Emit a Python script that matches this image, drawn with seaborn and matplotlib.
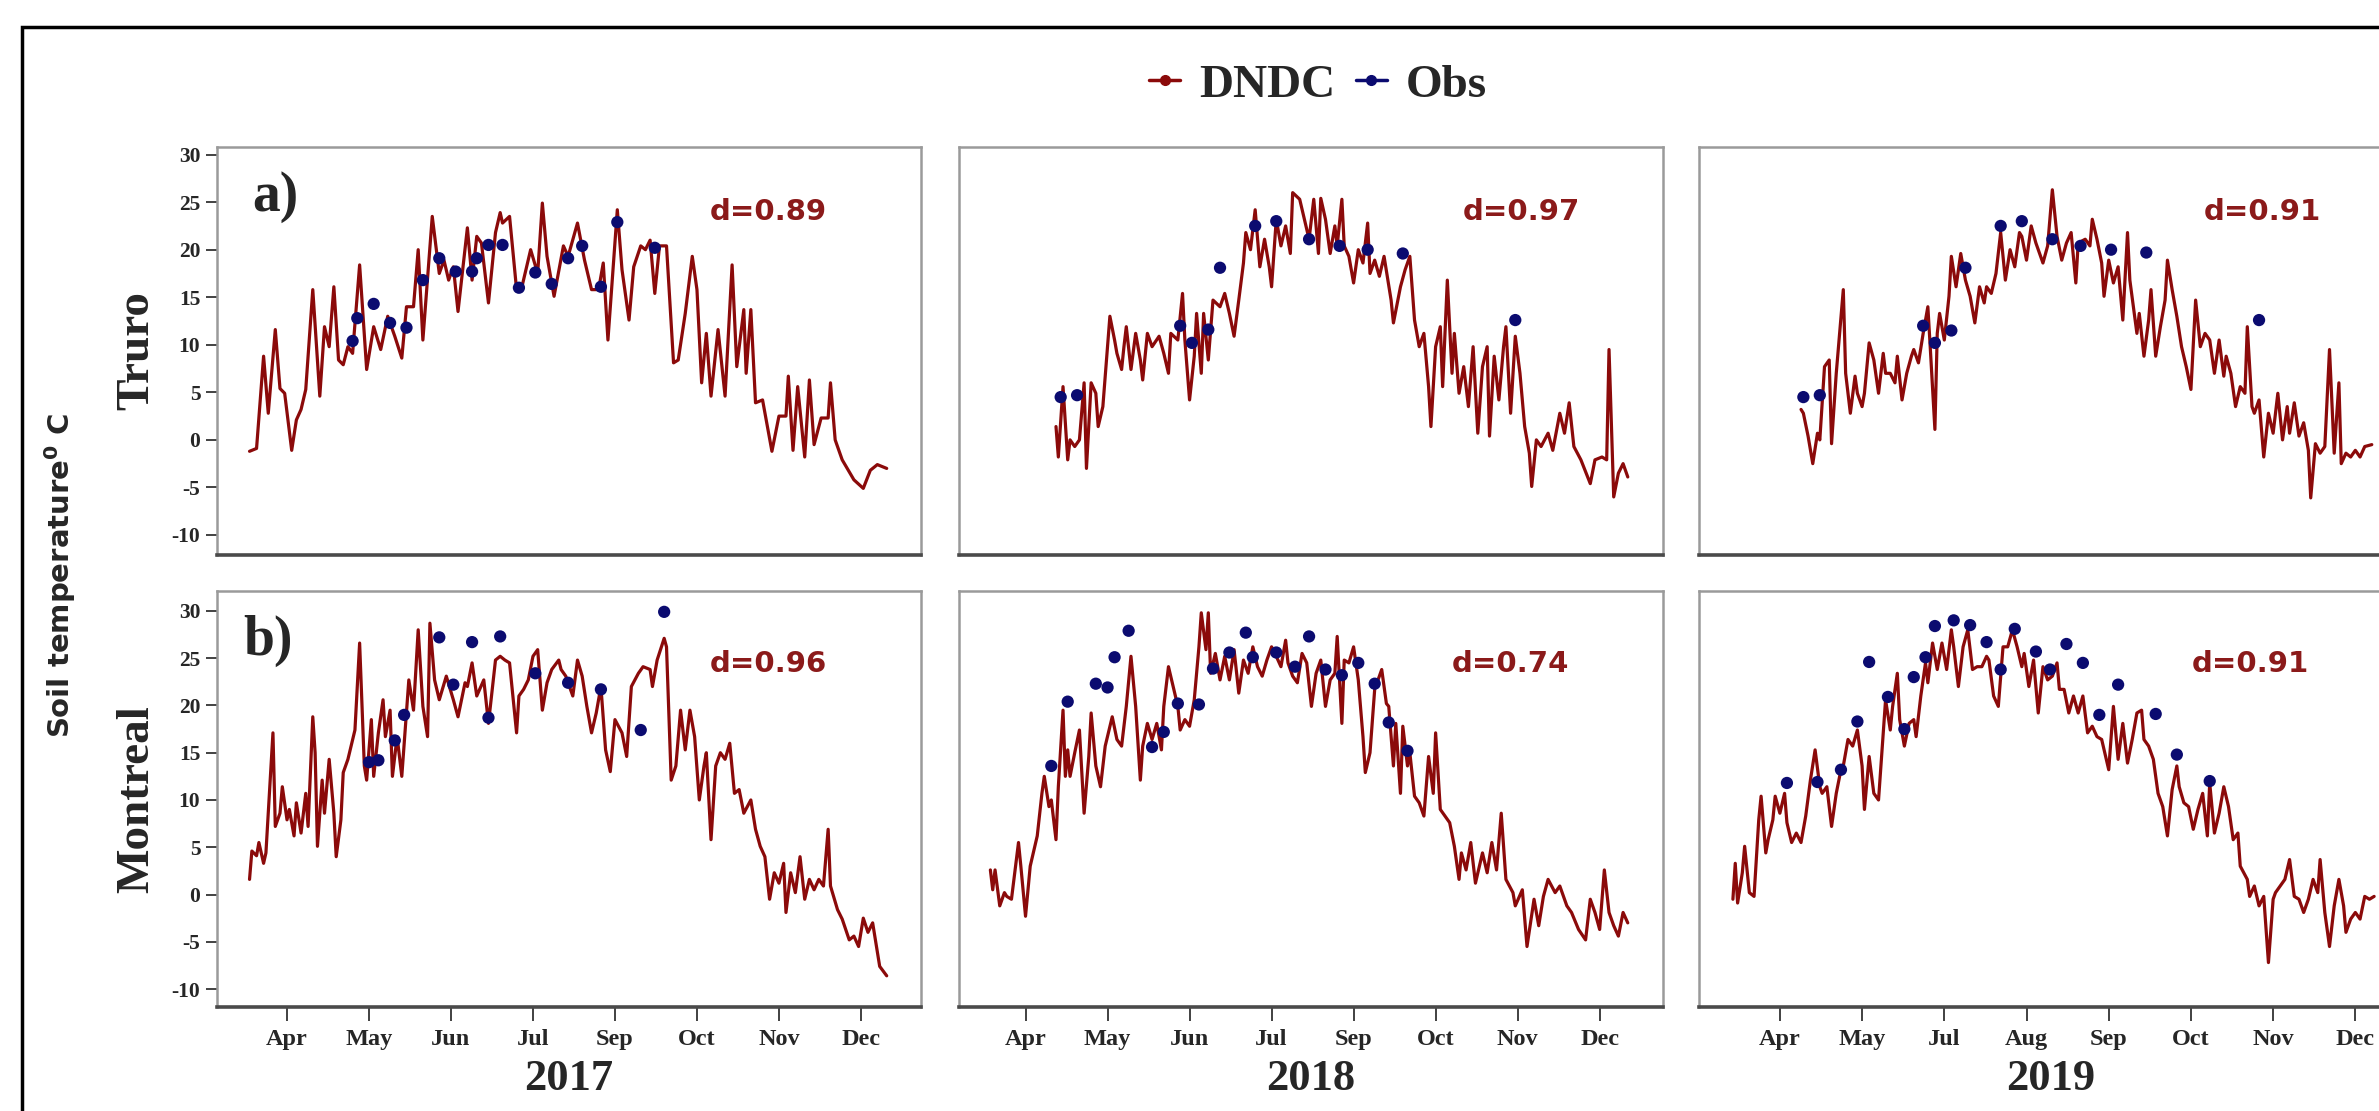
import matplotlib
matplotlib.use("Agg")
import matplotlib.pyplot as plt
from matplotlib.lines import Line2D
from matplotlib.patches import Rectangle
import seaborn as sns

sns.set_theme(style="ticks")
plt.rcParams['font.family'] = ['Liberation Serif', 'DejaVu Serif']
plt.rcParams['mathtext.fontset'] = 'dejavusans'

# ---- data (day of year, soil temperature in C) ----
truro_2017_day = [75, 78, 81, 83, 86, 88, 90, 93, 95, 97, 99, 102, 105, 107, 109, 111, 113, 115, 117, 119,
                  122, 125, 128, 131, 134, 137, 140, 142, 145, 147, 149, 153, 156, 158, 160, 162, 164, 168, 170, 172,
                  174, 177, 180, 182, 183, 186, 189, 191, 195, 198, 200, 202, 205, 209, 211, 215, 218, 221, 224, 226,
                  228, 232, 234, 237, 239, 242, 244, 246, 248, 250, 253, 256, 258, 261, 264, 266, 268, 270, 272, 275,
                  278, 281, 283, 286, 287, 289, 291, 294, 298, 301, 304, 305, 307, 309, 312, 314, 316, 319, 322, 323,
                  325, 328, 333, 337, 340, 343, 347]
truro_2017_temp = [-1.2, -0.9, 8.8, 2.8, 11.6, 5.4, 4.9, -1.1, 2.1, 3.2, 5.3, 15.8, 4.6, 11.9, 9.8, 16.1, 8.4, 7.9, 9.8, 9.1,
                   18.4, 7.4, 11.9, 9.5, 13.0, 10.9, 8.6, 14.0, 14.0, 20.0, 10.5, 23.5, 17.5, 18.9, 16.8, 18.2, 13.5, 22.3, 16.8, 21.4,
                   20.7, 14.4, 21.8, 23.9, 22.8, 23.5, 15.8, 15.8, 20.0, 17.5, 24.9, 19.3, 15.1, 20.4, 19.3, 22.8, 18.9, 15.8, 15.8, 18.6,
                   10.5, 24.2, 17.9, 12.6, 18.2, 20.4, 20.0, 21.0, 15.4, 20.4, 20.4, 8.1, 8.4, 13.3, 19.3, 15.8, 6.0, 11.2, 4.6, 11.6,
                   4.6, 18.4, 7.7, 13.7, 7.0, 13.7, 3.9, 4.2, -1.2, 2.5, 2.5, 6.7, -1.1, 5.6, -1.8, 6.3, -0.5, 2.3, 2.3, 6.0,
                   0.0, -2.1, -4.2, -5.1, -3.2, -2.6, -3.0]
truro_2017_obs_day = [119, 121, 128, 135, 142, 149, 156, 163, 170, 172, 177, 183, 190, 197, 204, 211, 217, 225, 232, 248]
truro_2017_obs = [10.4, 12.8, 14.3, 12.3, 11.8, 16.8, 19.1, 17.7, 17.7, 19.1, 20.5, 20.5, 16.0, 17.6, 16.4, 19.1, 20.4, 16.1, 22.9, 20.2]

truro_2018_day = [104, 105, 107, 109, 110, 112, 114, 116, 117, 119, 121, 122, 124, 127, 129, 130, 132, 133, 134, 136,
                  138, 140, 141, 143, 145, 148, 150, 152, 153, 156, 158, 159, 161, 163, 164, 166, 167, 169, 171, 174,
                  176, 178, 180, 182, 184, 185, 187, 189, 191, 193, 195, 196, 198, 200, 202, 204, 205, 208, 210, 212,
                  214, 216, 217, 219, 221, 223, 224, 226, 227, 229, 231, 233, 235, 237, 238, 240, 242, 244, 247, 248,
                  251, 253, 255, 257, 259, 261, 263, 264, 266, 268, 269, 271, 273, 274, 276, 278, 280, 282, 284, 286,
                  288, 289, 291, 293, 295, 296, 298, 300, 302, 304, 306, 307, 309, 311, 314, 316, 319, 321, 323, 325,
                  328, 332, 334, 337, 339, 340, 342, 344, 346, 348]
truro_2018_temp = [1.4, -1.8, 5.6, -2.1, 0.0, -0.7, 0.0, 6.0, -3.0, 6.0, 4.9, 1.4, 3.5, 13.0, 10.5, 9.1, 7.4, 9.8, 11.9, 7.4,
                   11.2, 8.4, 6.3, 11.2, 9.8, 10.9, 9.1, 7.0, 11.2, 10.5, 15.4, 10.5, 4.2, 8.8, 13.3, 7.0, 13.3, 8.4, 14.7, 14.0,
                   15.4, 13.3, 10.9, 14.7, 18.6, 21.8, 20.0, 24.2, 18.2, 21.1, 18.2, 16.1, 23.2, 20.4, 22.5, 19.6, 26.0, 25.3, 23.2, 21.1,
                   25.3, 19.6, 25.4, 23.2, 19.6, 22.5, 20.4, 25.3, 20.4, 19.3, 16.5, 20.0, 18.6, 22.8, 17.5, 18.9, 17.2, 19.3, 14.7, 12.3,
                   16.1, 17.9, 19.3, 12.6, 9.8, 11.2, 5.6, 1.4, 9.8, 11.9, 5.6, 16.8, 7.0, 11.2, 4.9, 7.7, 3.5, 9.8, 0.7, 7.7,
                   9.8, 0.4, 8.8, 4.2, 9.8, 11.9, 2.8, 10.9, 7.0, 1.4, -1.4, -4.9, 0.0, -0.7, 0.7, -1.1, 2.8, 0.7, 3.9, -0.7,
                   -2.1, -4.6, -2.1, -1.8, -2.1, 9.5, -6.0, -3.5, -2.5, -3.9]
truro_2018_obs_day = [106, 113, 157, 162, 169, 174, 189, 198, 212, 225, 237, 252, 300]
truro_2018_obs = [4.5, 4.7, 12.0, 10.2, 11.6, 18.1, 22.5, 23.0, 21.1, 20.4, 20.0, 19.6, 12.6]

truro_2019_day = [100, 101, 103, 105, 107, 108, 110, 112, 113, 115, 118, 119, 121, 123, 124, 126, 127, 129, 131, 133,
                  135, 136, 138, 140, 141, 143, 145, 147, 148, 150, 152, 154, 155, 157, 158, 159, 161, 163, 164, 166,
                  168, 170, 172, 174, 176, 178, 179, 181, 183, 185, 187, 189, 191, 193, 194, 196, 198, 200, 203, 205,
                  207, 209, 211, 213, 215, 217, 218, 221, 223, 224, 226, 228, 229, 231, 233, 235, 237, 239, 240, 243,
                  244, 246, 248, 249, 251, 253, 255, 256, 258, 260, 262, 264, 266, 268, 270, 272, 274, 276, 278, 280,
                  281, 283, 285, 287, 289, 290, 292, 293, 295, 297, 299, 301, 303, 305, 307, 308, 310, 312, 314, 316,
                  317, 319, 321, 323, 325, 327, 329, 330, 332, 334, 336, 338, 340, 343]
truro_2019_temp = [3.2, 2.8, 0.4, -2.5, 0.7, 0.0, 7.7, 8.4, -0.4, 7.0, 15.8, 7.0, 2.8, 6.7, 4.9, 3.5, 4.9, 10.2, 8.4, 4.9,
                   9.1, 7.0, 7.0, 6.0, 8.8, 4.2, 7.0, 8.8, 9.5, 8.1, 11.2, 14.0, 9.8, 1.1, 11.2, 13.3, 10.5, 15.1, 19.3, 16.1,
                   19.6, 16.8, 15.1, 12.3, 16.1, 14.4, 16.1, 15.4, 17.5, 21.8, 16.8, 20.0, 18.2, 21.8, 21.4, 18.9, 22.5, 20.7, 18.6, 20.4,
                   26.3, 21.4, 18.9, 20.7, 21.8, 16.5, 20.7, 21.1, 20.4, 23.2, 21.1, 18.6, 15.1, 18.9, 16.5, 18.2, 12.6, 21.8, 16.8, 11.2,
                   13.3, 8.8, 12.6, 15.8, 8.8, 11.9, 14.7, 18.9, 15.8, 13.0, 9.8, 7.7, 5.3, 14.7, 9.8, 11.2, 10.5, 7.0, 10.5, 6.7,
                   8.8, 7.0, 3.5, 5.6, 4.9, 11.9, 3.5, 2.8, 4.2, -1.8, 2.8, 0.7, 4.9, 0.0, 3.5, 0.7, 3.9, 0.4, 1.8, -1.1,
                   -6.1, -0.4, -1.4, -0.7, 9.5, -1.4, 6.0, -2.5, -1.4, -1.8, -1.1, -1.8, -0.7, -0.5]
truro_2019_obs_day = [101, 108, 152, 157, 164, 170, 185, 194, 207, 219, 232, 247, 295]
truro_2019_obs = [4.5, 4.7, 12.0, 10.2, 11.5, 18.1, 22.5, 23.0, 21.1, 20.4, 20.0, 19.7, 12.6]

montreal_2017_day = [75, 76, 78, 79, 81, 82, 85, 86, 88, 89, 91, 92, 94, 95, 97, 99, 100, 102, 103, 104,
                     106, 107, 109, 111, 112, 114, 115, 117, 119, 120, 122, 124, 125, 127, 128, 130, 132, 133, 135, 136,
                     138, 140, 142, 143, 145, 147, 149, 151, 152, 154, 156, 159, 162, 164, 167, 168, 170, 172, 175, 177,
                     180, 182, 184, 186, 189, 190, 192, 194, 196, 198, 200, 202, 204, 207, 208, 210, 213, 215, 217, 219,
                     221, 223, 225, 227, 229, 231, 234, 236, 238, 241, 243, 246, 247, 249, 252, 253, 255, 257, 259, 261,
                     263, 265, 267, 269, 270, 272, 274, 276, 278, 280, 282, 284, 286, 289, 291, 293, 295, 297, 299, 301,
                     303, 304, 306, 308, 310, 312, 314, 316, 318, 320, 322, 323, 326, 328, 331, 333, 335, 337, 339, 341,
                     344, 347]
montreal_2017_temp = [1.6, 4.6, 4.1, 5.5, 3.3, 4.4, 17.1, 7.2, 8.6, 11.4, 7.9, 9.0, 6.2, 9.7, 6.5, 10.7, 7.2, 18.8, 15.0, 5.1,
                      12.1, 8.6, 14.3, 8.6, 4.0, 7.9, 12.9, 14.3, 16.4, 17.4, 26.6, 13.6, 12.1, 18.5, 12.5, 17.1, 20.6, 16.7, 19.5, 12.5,
                      16.7, 12.5, 19.2, 22.7, 19.5, 28.0, 19.9, 16.7, 28.7, 22.7, 20.6, 23.1, 20.6, 18.8, 22.4, 22.0, 24.5, 21.0, 22.7, 18.1,
                      24.8, 25.2, 24.8, 24.5, 17.1, 21.0, 21.7, 22.7, 25.2, 25.9, 19.5, 22.4, 23.8, 24.8, 23.8, 23.1, 21.0, 24.8, 23.1, 19.9,
                      17.1, 19.2, 22.0, 15.3, 13.0, 18.5, 17.1, 14.6, 22.0, 23.4, 24.1, 23.8, 22.0, 24.8, 27.1, 26.2, 12.1, 13.6, 19.5, 15.3,
                      19.5, 16.7, 10.0, 13.6, 15.0, 5.8, 13.6, 15.0, 14.3, 16.0, 10.7, 11.1, 8.6, 10.0, 6.9, 5.1, 4.0, -0.5, 2.3, 1.2,
                      3.3, -1.9, 2.3, 0.2, 4.0, -0.5, 1.6, 0.5, 1.6, 0.9, 6.9, 0.9, -1.6, -2.6, -4.8, -4.4, -5.5, -2.5, -4.0, -3.0,
                      -7.6, -8.6]
montreal_2017_obs_day = [126, 130, 137, 141, 156, 162, 170, 177, 182, 197, 211, 225, 242, 252]
montreal_2017_obs = [14.0, 14.2, 16.3, 19.0, 27.2, 22.2, 26.7, 18.7, 27.3, 23.4, 22.4, 21.7, 17.4, 29.9]

montreal_2018_day = [76, 77, 78, 80, 82, 83, 85, 88, 89, 91, 93, 95, 96, 98, 99, 101, 102, 104, 105, 107,
                     108, 109, 110, 112, 114, 116, 118, 119, 121, 123, 125, 127, 128, 130, 132, 134, 136, 138, 140, 141,
                     143, 145, 147, 149, 150, 152, 154, 156, 157, 159, 161, 163, 165, 166, 168, 169, 170, 172, 174, 176,
                     178, 180, 182, 184, 186, 188, 190, 192, 194, 196, 198, 200, 202, 203, 205, 207, 209, 211, 213, 215,
                     217, 219, 221, 223, 224, 226, 227, 229, 231, 233, 235, 236, 238, 240, 243, 245, 246, 248, 249, 251,
                     252, 254, 255, 257, 259, 261, 263, 265, 266, 268, 270, 272, 274, 276, 277, 279, 281, 283, 286, 288,
                     290, 292, 294, 296, 299, 300, 303, 305, 308, 310, 312, 314, 317, 319, 322, 324, 327, 330, 332, 334,
                     336, 338, 340, 342, 344, 346, 348]
montreal_2018_temp = [2.6, 0.5, 2.6, -1.2, 0.2, -0.2, -0.5, 5.5, 3.0, -2.3, 3.0, 5.1, 6.2, 10.7, 12.5, 9.3, 10.0, 5.8, 11.4, 19.5,
                      12.5, 15.3, 12.5, 15.0, 17.4, 8.6, 14.6, 19.2, 13.6, 11.4, 15.7, 17.8, 18.8, 16.4, 15.7, 19.9, 25.2, 19.9, 12.1, 15.7,
                      18.1, 16.4, 18.1, 15.3, 19.9, 24.1, 22.0, 19.9, 17.4, 18.5, 17.8, 20.6, 26.2, 29.8, 25.9, 29.8, 23.4, 25.5, 22.7, 25.2,
                      22.7, 25.9, 21.3, 24.8, 23.4, 26.2, 24.1, 23.1, 24.8, 26.2, 25.2, 24.1, 26.9, 24.5, 23.1, 22.4, 25.5, 24.5, 19.9, 23.4,
                      24.8, 19.9, 22.7, 23.4, 27.3, 18.1, 24.8, 24.5, 26.2, 22.7, 16.7, 12.9, 15.0, 21.7, 23.8, 20.2, 19.9, 13.6, 18.1, 10.7,
                      17.8, 13.6, 15.0, 10.4, 9.7, 8.3, 14.6, 10.7, 17.1, 9.0, 8.3, 7.6, 5.1, 1.6, 4.4, 2.6, 5.5, 1.2, 4.4, 2.3,
                      5.5, 2.6, 8.6, 1.6, 0.2, -1.2, 0.5, -5.5, -0.5, -3.3, -0.2, 1.6, 0.2, 0.9, -1.2, -1.9, -3.7, -4.8, -0.5, -1.9,
                      -3.7, 2.6, -1.9, -3.3, -4.4, -1.9, -3.0]
montreal_2018_obs_day = [102, 109, 121, 126, 129, 135, 145, 150, 156, 165, 171, 178, 185, 188, 198, 206, 212, 219, 226, 233, 240, 246, 254]
montreal_2018_obs = [13.6, 20.4, 22.3, 21.9, 25.1, 27.9, 15.6, 17.2, 20.2, 20.1, 23.9, 25.6, 27.7, 25.1, 25.6, 24.1, 27.3, 23.8,
                     23.2, 24.5, 22.3, 18.2, 15.2]

montreal_2019_day = [71, 72, 73, 75, 76, 78, 80, 82, 83, 85, 86, 88, 89, 91, 93, 94, 96, 98, 100, 102,
                     104, 106, 108, 109, 111, 113, 115, 117, 118, 120, 122, 124, 126, 127, 129, 131, 133, 135, 136, 138,
                     139, 141, 142, 144, 146, 148, 149, 151, 153, 154, 156, 158, 160, 162, 164, 165, 167, 169, 171, 173,
                     175, 177, 179, 180, 182, 184, 186, 188, 190, 192, 194, 195, 197, 199, 201, 203, 205, 207, 209, 210,
                     212, 214, 216, 218, 220, 222, 224, 226, 228, 230, 231, 233, 235, 237, 239, 241, 243, 245, 246, 248,
                     250, 252, 254, 256, 258, 260, 261, 263, 265, 267, 269, 271, 273, 274, 276, 278, 280, 282, 284, 286,
                     287, 290, 291, 293, 295, 297, 299, 301, 302, 304, 306, 308, 310, 312, 314, 316, 318, 320, 321, 323,
                     325, 327, 329, 331, 332, 334, 336, 338, 340, 342, 344]
montreal_2019_temp = [-0.5, 3.3, -0.9, 2.3, 5.1, 0.2, -0.2, 7.9, 10.4, 4.4, 5.8, 7.9, 10.4, 8.6, 10.7, 7.6, 5.5, 6.5, 5.5, 8.3,
                      12.1, 15.3, 11.4, 10.7, 11.4, 7.2, 10.7, 13.2, 13.6, 16.4, 15.7, 17.4, 13.6, 9.0, 14.6, 10.7, 10.0, 17.1, 20.6, 17.4,
                      19.9, 23.4, 18.5, 15.7, 18.1, 18.5, 16.7, 21.0, 24.5, 22.4, 26.6, 23.8, 26.6, 23.8, 28.0, 26.2, 22.0, 26.2, 28.0, 23.8,
                      24.1, 24.1, 25.2, 24.8, 21.0, 19.9, 26.2, 26.2, 28.0, 26.2, 24.1, 25.5, 22.0, 24.8, 19.2, 24.1, 22.7, 23.1, 24.5, 21.7,
                      21.7, 19.2, 21.0, 19.2, 21.0, 17.1, 17.8, 16.7, 16.4, 14.3, 13.2, 19.9, 14.3, 18.1, 13.9, 16.4, 19.2, 19.5, 16.4, 15.7,
                      14.3, 10.7, 9.3, 6.2, 11.1, 13.6, 11.4, 9.7, 9.3, 6.9, 9.0, 10.7, 6.2, 11.8, 6.5, 8.6, 11.4, 9.3, 5.8, 6.5,
                      3.0, 1.6, -0.2, 0.9, -1.2, -0.2, -7.2, -0.5, 0.2, 0.9, 1.6, 3.7, -0.2, -0.5, -1.9, -0.5, 1.6, 0.2, 3.7, -1.9,
                      -5.5, -1.2, 1.6, -1.2, -4.0, -2.6, -1.9, -2.6, -0.2, -0.5, -0.2]
montreal_2019_obs_day = [94, 107, 117, 124, 129, 137, 144, 148, 153, 157, 165, 172, 179, 185, 191, 200, 206, 213, 220, 227, 235, 251, 260, 274]
montreal_2019_obs = [11.8, 11.9, 13.2, 18.3, 24.6, 20.9, 17.5, 23.0, 25.1, 28.4, 29.0, 28.5, 26.7, 23.8, 28.1, 25.7, 23.8, 26.5,
                     24.5, 19.0, 22.2, 19.1, 14.8, 12.0]

years = ['2017', '2018', '2019']
sites = ['Truro', 'Montreal']
d_values = [['d=0.89', 'd=0.97', 'd=0.91'], ['d=0.96', 'd=0.74', 'd=0.91']]
panel_letters = ['a)', 'b)']
month_ticks = [91, 126, 161, 196, 231, 266, 301, 336]
month_labels = [['Apr', 'May', 'Jun', 'Jul', 'Sep', 'Oct', 'Nov', 'Dec'],
                ['Apr', 'May', 'Jun', 'Jul', 'Sep', 'Oct', 'Nov', 'Dec'],
                ['Apr', 'May', 'Jul', 'Aug', 'Sep', 'Oct', 'Nov', 'Dec']]
y_ticks = [-10, -5, 0, 5, 10, 15, 20, 25, 30]

sim = [[(truro_2017_day, truro_2017_temp), (truro_2018_day, truro_2018_temp), (truro_2019_day, truro_2019_temp)],
       [(montreal_2017_day, montreal_2017_temp), (montreal_2018_day, montreal_2018_temp), (montreal_2019_day, montreal_2019_temp)]]
obs = [[(truro_2017_obs_day, truro_2017_obs), (truro_2018_obs_day, truro_2018_obs), (truro_2019_obs_day, truro_2019_obs)],
       [(montreal_2017_obs_day, montreal_2017_obs), (montreal_2018_obs_day, montreal_2018_obs), (montreal_2019_obs_day, montreal_2019_obs)]]

LINE = '#8B0A0A'
DOT = '#0B0B70'
TXT_RED = '#8B1A1A'

fig = plt.figure(figsize=(23.79, 11.11), dpi=100)

col_left = [0.0912, 0.4031, 0.7142]
col_w = 0.2959
row_bottom = [0.5005, 0.0936]
row_h = [0.3672, 0.3744]
xlims = [(61.1, 361.6), (62.6, 363.0), (56.6, 356.3)]
ylims = [(-12.1, 30.8), (-11.9, 32.1)]
d_x = [[0.70, 0.716, 0.717], [0.70, 0.70, 0.70]]
d_y = [0.821, 0.805]
letter_pos = [(0.05, 0.843), (0.038, 0.846)]

for r in range(2):
    for c in range(3):
        ax = fig.add_axes([col_left[c], row_bottom[r], col_w, row_h[r]])
        sx, sy = sim[r][c]
        ox, oy = obs[r][c]
        sns.lineplot(x=sx, y=sy, ax=ax, color=LINE, linewidth=2.3, estimator=None, sort=False)
        sns.scatterplot(x=ox, y=oy, ax=ax, color=DOT, s=78, edgecolor='none', zorder=3)
        ax.set_xlim(*xlims[c])
        ax.set_ylim(*ylims[r])

        for side in ['left', 'top', 'right']:
            ax.spines[side].set_color('#9a9a9a')
            ax.spines[side].set_linewidth(1.8)
        ax.spines['bottom'].set_color('#4a4a4a')
        ax.spines['bottom'].set_linewidth(2.6)

        if c == 0:
            ax.set_yticks(y_ticks)
            ax.set_yticklabels([str(v) for v in y_ticks], fontsize=15.5, fontweight='bold')
            ax.tick_params(axis='y', direction='out', length=8, width=1.3, color='#333333', pad=4)
        else:
            ax.set_yticks([])

        if r == 1:
            ax.set_xticks(month_ticks)
            ax.set_xticklabels(month_labels[c], fontsize=17.5, fontweight='bold')
            ax.tick_params(axis='x', direction='out', length=10, width=1.3, color='#333333', pad=6)
            ax.text(0.5, -0.2, years[c], transform=ax.transAxes, ha='center', va='baseline',
                    fontsize=32, fontweight='bold')
        else:
            ax.set_xticks([])
        ax.set_xlabel('')
        ax.set_ylabel('')

        ax.text(d_x[r][c], d_y[r], d_values[r][c], transform=ax.transAxes,
                ha='left', va='baseline', fontsize=21, fontweight='bold', color=TXT_RED,
                family='DejaVu Sans')
        if c == 0:
            ax.text(letter_pos[r][0], letter_pos[r][1], panel_letters[r], transform=ax.transAxes,
                    ha='left', va='baseline', fontsize=40, fontweight='bold')

# row labels and shared y label
fig.text(137 / 2379, 1 - 351 / 1111, sites[0], rotation=90, ha='center', va='center',
         fontsize=34, fontweight='bold')
fig.text(137 / 2379, 1 - 799 / 1111, sites[1], rotation=90, ha='center', va='center',
         fontsize=34, fontweight='bold')
fig.text(60 / 2379, 1 - 575 / 1111, r'Soil temperature$^{\mathbf{0}}$ C', rotation=90,
         ha='center', va='center', fontsize=21, fontweight='bold', family='DejaVu Sans')

handles = [Line2D([0], [0], color=LINE, lw=2.5, marker='o', markersize=7),
           Line2D([0], [0], color=DOT, lw=2.5, marker='o', markersize=7)]
fig.legend(handles, ['DNDC', 'Obs'], loc='center', bbox_to_anchor=(1318 / 2379, 1 - 85 / 1111),
           ncol=2, frameon=False, handlelength=0.65, handletextpad=0.4, columnspacing=0.45,
           prop={'family': 'Liberation Serif', 'weight': 'bold', 'size': 34})

# outer frame (cropped at right and bottom)
fig.patches.append(Rectangle((22 / 2379, -0.05), 1.1, 1.05 - 27 / 1111, transform=fig.transFigure,
                             fill=False, lw=2.5, ec='black'))

fig.savefig('out.png', dpi=100)
